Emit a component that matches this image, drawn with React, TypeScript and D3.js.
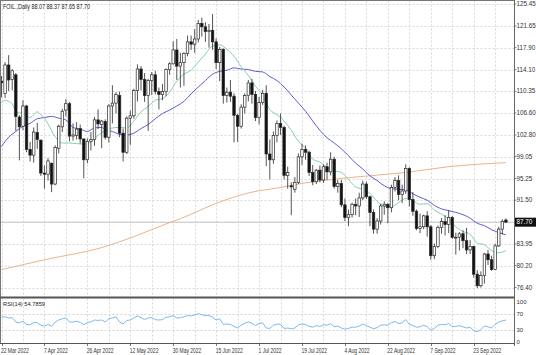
import React from "react";
import * as d3 from "d3";

const header = "FOIL.,Daily  88.07 88.37 87.65 87.70";
const rsiTitle = "RSI(14) 54.7859";
const lastPrice = 87.7;

const dateLabels = [
  "22 Mar 2022", "7 Apr 2022", "26 Apr 2022", "12 May 2022", "30 May 2022", "15 Jun 2022",
  "1 Jul 2022", "19 Jul 2022", "4 Aug 2022", "22 Aug 2022", "7 Sep 2022", "23 Sep 2022",
];
const priceTicks = [125.45, 121.65, 117.9, 114.1, 110.35, 106.6, 102.8, 99.05, 95.25, 91.5, 87.7, 83.95, 80.2, 76.4];
const rsiTicks = [100, 70, 30, 0];
const rsiLevels = [70, 30];

const opens = [
  112.1, 110.0, 114.9, 112.4, 113.2, 105.9, 104.3, 107.8, 100.3, 99.3,
  103.2, 101.9, 96.2, 96.0, 97.9, 94.3, 100.5, 104.2, 107.1, 108.2,
  102.6, 102.7, 103.9, 102.1, 98.5, 101.7, 102.0, 105.4, 104.6, 105.1,
  102.4, 107.8, 108.3, 109.6, 103.1, 99.8, 105.7, 106.1, 110.5, 114.2,
  112.4, 109.6, 112.2, 113.2, 110.3, 109.8, 110.3, 114.1, 115.1, 117.5,
  114.7, 115.3, 116.9, 118.9, 118.5, 119.4, 122.1, 121.5, 120.7, 120.9,
  118.9, 115.3, 117.6, 109.6, 110.2, 109.5, 106.2, 104.3, 107.6, 109.6,
  111.8, 109.8, 105.8, 108.4, 110.0, 99.5, 98.5, 102.7, 104.8, 104.1,
  95.8, 94.0, 93.4, 94.6, 99.0, 100.3, 99.8, 96.3, 94.7, 96.7,
  95.0, 97.3, 96.4, 98.6, 93.9, 94.4, 90.7, 88.5, 89.0, 90.8,
  90.5, 91.9, 94.3, 92.1, 89.4, 86.5, 87.9, 90.5, 90.8, 90.2,
  93.7, 94.9, 92.5, 93.1, 97.0, 91.6, 89.6, 86.6, 86.9, 88.8,
  86.9, 81.9, 83.5, 86.8, 87.8, 87.3, 88.5, 85.1, 85.1, 85.7,
  84.5, 82.9, 83.5, 78.7, 76.7, 78.5, 82.2, 81.2, 79.5, 83.6,
  86.5, 88.07,
];
const highs = [
  113.0, 115.4, 116.6, 114.2, 113.5, 106.2, 108.8, 108.0, 101.6, 104.1,
  104.9, 102.0, 97.5, 98.8, 98.0, 101.0, 104.6, 107.3, 109.0, 108.5,
  104.8, 105.0, 104.6, 102.2, 102.2, 103.3, 105.9, 107.2, 105.4, 105.5,
  108.1, 111.4, 110.2, 110.3, 103.9, 106.0, 107.0, 110.8, 115.0, 114.7,
  113.5, 112.5, 113.7, 113.9, 111.0, 111.6, 114.3, 115.4, 119.0, 119.4,
  117.0, 117.1, 120.0, 120.0, 121.1, 122.7, 123.1, 122.3, 122.0, 123.7,
  119.5, 118.0, 117.8, 111.0, 112.3, 110.0, 106.4, 108.1, 110.0, 112.3,
  112.5, 110.4, 109.4, 110.6, 111.4, 102.0, 103.4, 105.3, 106.5, 104.4,
  97.3, 94.6, 95.5, 99.6, 101.3, 101.0, 100.1, 97.6, 96.9, 97.5,
  97.7, 98.0, 99.8, 99.0, 95.0, 95.0, 91.8, 89.9, 91.1, 91.8,
  92.8, 94.9, 94.7, 92.3, 89.9, 88.4, 90.9, 91.3, 91.0, 94.2,
  95.5, 95.8, 94.2, 97.7, 97.2, 92.9, 89.9, 89.2, 89.0, 89.6,
  87.2, 84.0, 87.1, 88.4, 88.9, 89.8, 88.8, 85.9, 86.0, 86.3,
  86.7, 84.6, 83.6, 79.4, 79.2, 82.4, 82.9, 81.9, 84.0, 86.9,
  88.2, 88.37,
];
const lows = [
  109.3, 109.2, 110.4, 110.5, 103.5, 98.4, 103.6, 99.8, 98.2, 98.0,
  100.4, 95.7, 93.5, 94.9, 92.9, 94.1, 99.6, 103.3, 106.0, 101.7,
  101.8, 102.0, 101.3, 95.3, 97.9, 100.1, 100.9, 103.8, 100.5, 102.0,
  101.5, 104.8, 106.5, 102.4, 98.2, 99.5, 101.1, 105.6, 108.6, 110.5,
  108.5, 103.5, 109.7, 109.8, 107.2, 108.8, 109.5, 113.2, 115.0, 112.3,
  111.0, 111.3, 116.4, 117.5, 117.0, 118.8, 119.8, 118.9, 117.9, 117.5,
  114.2, 112.1, 108.2, 108.4, 108.5, 101.5, 101.6, 103.9, 106.5, 108.6,
  108.2, 105.2, 104.6, 108.0, 97.4, 95.1, 97.8, 101.5, 102.8, 95.1,
  93.5, 88.9, 92.8, 94.3, 97.6, 98.5, 95.7, 94.1, 94.3, 94.6,
  94.5, 95.0, 95.8, 93.5, 92.8, 90.3, 87.9, 87.0, 88.5, 88.9,
  88.6, 91.5, 91.7, 87.0, 85.7, 85.7, 87.3, 89.0, 87.5, 89.4,
  93.0, 91.5, 91.0, 92.6, 90.4, 88.8, 86.3, 85.8, 86.5, 85.2,
  81.2, 81.3, 83.2, 85.7, 85.4, 85.8, 84.8, 82.1, 82.8, 83.2,
  82.2, 82.2, 78.1, 76.3, 76.4, 77.1, 80.3, 79.3, 79.4, 83.4,
  85.6, 87.65,
];
const closes = [
  111.8, 114.9, 112.3, 113.9, 106.0, 104.2, 107.8, 100.3, 99.3, 103.3,
  102.0, 96.2, 96.0, 98.3, 94.3, 100.6, 104.3, 106.9, 108.2, 102.6,
  102.8, 103.8, 102.1, 98.5, 101.7, 102.0, 105.4, 104.7, 105.2, 102.4,
  107.8, 108.3, 109.8, 103.1, 99.8, 105.7, 106.1, 110.5, 114.2, 112.4,
  109.6, 112.2, 113.2, 110.3, 109.8, 110.3, 114.1, 115.1, 117.5, 114.7,
  115.3, 116.9, 118.9, 118.5, 119.4, 122.1, 121.5, 120.7, 120.9, 118.9,
  115.3, 117.6, 109.6, 110.2, 109.5, 106.2, 104.3, 107.6, 109.6, 111.8,
  109.8, 105.8, 108.4, 110.0, 99.5, 98.5, 102.7, 104.8, 104.1, 95.8,
  96.3, 93.8, 94.6, 99.0, 100.3, 99.8, 96.3, 94.7, 96.7, 95.0,
  97.3, 96.4, 98.6, 93.9, 94.4, 90.7, 88.5, 89.0, 90.8, 90.5,
  91.9, 94.3, 92.1, 89.4, 86.5, 87.9, 90.5, 90.8, 90.2, 93.7,
  94.9, 92.5, 93.1, 97.0, 91.6, 89.6, 86.6, 86.9, 88.8, 86.9,
  81.9, 83.5, 86.8, 87.8, 87.3, 88.5, 85.1, 85.1, 85.7, 84.5,
  82.9, 83.5, 78.7, 76.7, 78.5, 82.2, 81.2, 79.5, 83.6, 86.5,
  87.8, 87.7,
];

const sma14: [number, number][] = [
  [0, 108.3], [1, 108.8], [2, 108.6], [3, 108.2], [4, 106.9], [5, 106.6], [6, 106.7], [7, 106.1],
  [8, 105.8], [9, 106.3], [10, 106.8], [11, 106.3], [12, 105.7], [13, 104.7], [15, 102.5], [17, 101.4],
  [19, 101.4], [21, 101.3], [23, 101.2], [25, 101.6], [27, 102.7], [29, 103.6], [31, 104.0], [33, 104.1],
  [35, 104.0], [37, 105.2], [39, 106.8], [41, 107.7], [43, 108.8], [45, 109.1], [47, 110.2], [49, 112.1],
  [51, 113.3], [53, 114.0], [55, 115.4], [57, 116.8], [59, 118.2], [61, 118.4], [63, 117.6], [65, 116.4],
  [67, 114.6], [69, 113.1], [71, 111.2], [73, 109.7], [75, 107.2], [77, 106.3], [79, 105.2], [81, 103.6],
  [83, 101.7], [85, 100.5], [87, 98.6], [89, 98.1], [91, 97.2], [93, 96.6], [95, 96.3], [97, 95.1],
  [99, 93.8], [101, 93.4], [103, 92.7], [105, 91.3], [107, 90.5], [109, 90.4], [111, 91.1], [113, 91.8],
  [115, 91.4], [117, 90.8], [119, 90.9], [121, 89.8], [123, 89.1], [125, 88.3], [127, 86.9], [129, 86.1],
  [131, 85.6], [133, 84.1], [135, 83.8], [137, 82.8], [139, 82.4], [141, 82.8],
];
const sma30: [number, number][] = [
  [0, 100.8], [2, 102.4], [4, 103.4], [6, 104.3], [8, 104.8], [10, 105.6], [12, 105.8], [14, 106.0],
  [16, 105.7], [18, 105.4], [20, 104.1], [22, 103.8], [24, 103.4], [26, 104.0], [28, 104.1], [29, 103.7],
  [31, 103.4], [33, 102.9], [35, 102.8], [37, 103.1], [39, 103.9], [41, 104.6], [43, 105.6], [45, 106.5],
  [47, 107.1], [49, 107.8], [51, 108.6], [53, 109.9], [55, 111.1], [57, 112.2], [59, 113.3], [61, 113.8],
  [63, 114.0], [65, 114.4], [67, 114.2], [69, 114.1], [71, 113.8], [73, 113.7], [75, 112.9], [77, 112.2],
  [79, 111.1], [81, 109.7], [83, 108.3], [85, 106.9], [87, 105.2], [89, 103.6], [91, 102.3], [93, 101.4],
  [95, 100.4], [97, 99.2], [99, 97.9], [101, 96.9], [103, 95.7], [105, 94.9], [107, 94.0], [109, 93.5],
  [111, 93.4], [113, 93.3], [115, 92.6], [117, 92.0], [119, 91.5], [121, 90.6], [123, 90.0], [125, 89.7],
  [127, 89.4], [129, 89.0], [131, 88.4], [133, 87.5], [135, 87.1], [137, 86.4], [139, 85.9], [141, 85.5],
];
const sma200: [number, number][] = [
  [0, 79.5], [12, 81.2], [28, 83.3], [37, 85.2], [46, 87.4], [50, 88.3], [61, 91.2], [70, 92.9],
  [77, 93.6], [84, 94.4], [97, 95.4], [113, 96.3], [125, 97.3], [141, 98.0],
];
const rsi14 = [
  62, 63, 60, 61, 50, 48, 52, 44, 43, 49,
  48, 42, 40, 44, 39, 50, 55, 58, 60, 50,
  50, 52, 49, 43, 49, 50, 55, 54, 55, 50,
  58, 60, 63, 50, 45, 54, 55, 60, 65, 61,
  56, 60, 61, 56, 55, 56, 62, 63, 66, 60,
  61, 63, 66, 65, 68, 71, 68, 66, 66, 62,
  55, 58, 44, 45, 44, 39, 35, 42, 47, 50,
  47, 41, 46, 48, 35, 34, 42, 45, 44, 34,
  35, 33, 35, 43, 45, 44, 39, 37, 41, 39,
  43, 42, 46, 38, 40, 35, 32, 34, 37, 37,
  40, 45, 41, 37, 33, 36, 42, 43, 42, 49,
  51, 46, 48, 56, 44, 41, 37, 38, 42, 38,
  30, 34, 42, 44, 43, 46, 39, 39, 41, 38,
  35, 37, 28, 26, 31, 40, 38, 35, 44, 50,
  53, 54.79,
];

const FONT = "'Liberation Sans', Arial, sans-serif";

export default function App() {
  const W = 536;
  const H = 355;
  const plotL = 0.5;
  const plotR = 514.5;
  const mainTop = 0.5;
  const mainBot = 296.5;
  const rsiTop = 298.5;
  const rsiBot = 343.5;
  const n = closes.length;

  const x = d3.scaleLinear().domain([0, n - 1]).range([1.5, 505.9]);
  const y = d3.scaleLinear().domain([76.4, 125.45]).range([287.5, 4]);
  const yr = d3.scaleLinear().domain([0, 100]).range([342, 302]);

  const maLine = d3
    .line<[number, number]>()
    .x((d) => x(d[0]))
    .y((d) => y(d[1]))
    .curve(d3.curveMonotoneX);
  const rsiLine = d3
    .line<number>()
    .x((_, i) => x(i))
    .y((d) => yr(d));

  const gridIdx = d3.range(0, n, 6);
  const bodyW = 2.5;

  return (
    <svg
      width={W}
      height={H}
      style={{ position: "fixed", left: 0, top: 0, background: "#fff" }}
      fontFamily={FONT}
    >
      <rect x={0} y={0} width={W} height={H} fill="#fff" />
      {/* grid - main */}
      {priceTicks.map((p) => (
        <line key={"hg" + p} x1={plotL} x2={plotR} y1={Math.round(y(p)) + 0.5} y2={Math.round(y(p)) + 0.5}
          stroke="#cfcfcf" strokeWidth={0.8} strokeDasharray="2,2" />
      ))}
      {gridIdx.map((i) => (
        <g key={"vg" + i}>
          <line x1={Math.round(x(i)) + 0.5} x2={Math.round(x(i)) + 0.5} y1={mainTop} y2={mainBot}
            stroke="#cfcfcf" strokeWidth={0.8} strokeDasharray="2,2" />
          <line x1={Math.round(x(i)) + 0.5} x2={Math.round(x(i)) + 0.5} y1={rsiTop} y2={rsiBot}
            stroke="#cfcfcf" strokeWidth={0.8} strokeDasharray="2,2" />
        </g>
      ))}
      {rsiLevels.map((v) => (
        <line key={"rl" + v} x1={plotL} x2={plotR} y1={Math.round(yr(v)) + 0.5} y2={Math.round(yr(v)) + 0.5}
          stroke="#c8c8c8" strokeWidth={0.8} strokeDasharray="2,2" />
      ))}
      {/* bid line */}
      <line x1={plotL} x2={plotR} y1={y(lastPrice)} y2={y(lastPrice)} stroke="#c4c4c4" strokeWidth={1} />

      {/* moving averages */}
      <path d={maLine(sma200) || ""} fill="none" stroke="#eab38e" strokeWidth={1} />
      <path d={maLine(sma30) || ""} fill="none" stroke="#5d5dd0" strokeWidth={1} />
      <path d={maLine(sma14) || ""} fill="none" stroke="#86cdb0" strokeWidth={1} />

      {/* candles */}
      {closes.map((c, i) => {
        const o = opens[i];
        const up = c >= o;
        const cx = x(i);
        const top = y(Math.max(o, c));
        const bot = y(Math.min(o, c));
        return (
          <g key={"c" + i}>
            <line x1={cx} x2={cx} y1={y(highs[i])} y2={y(lows[i])} stroke="#2a2a2a" strokeWidth={0.8} />
            <rect x={cx - bodyW / 2} y={top} width={bodyW} height={Math.max(0.8, bot - top)}
              fill={up ? "#ffffff" : "#111111"} stroke="#2a2a2a" strokeWidth={0.7} />
          </g>
        );
      })}

      {/* RSI line */}
      <path d={rsiLine(rsi14) || ""} fill="none" stroke="#7db9ef" strokeWidth={1} />

      {/* frames */}
      <line x1={0.5} x2={0.5} y1={0} y2={rsiBot} stroke="#777" strokeWidth={1} />
      <line x1={0} x2={plotR} y1={0.5} y2={0.5} stroke="#777" strokeWidth={1} />
      <line x1={0} x2={plotR} y1={297.5} y2={297.5} stroke="#555" strokeWidth={2} />
      <line x1={0} x2={plotR} y1={rsiBot} y2={rsiBot} stroke="#555" strokeWidth={1.2} />
      <line x1={plotR} x2={plotR} y1={0} y2={346} stroke="#666" strokeWidth={1} />

      {/* price axis labels */}
      {priceTicks.filter((p) => p !== lastPrice).map((p) => (
        <g key={"pt" + p}>
          <line x1={plotR} x2={plotR + 2} y1={y(p)} y2={y(p)} stroke="#666" strokeWidth={0.8} />
          <text x={516.5} y={y(p) + 2.2} fontSize={6.3} fill="#333">{p.toFixed(2)}</text>
        </g>
      ))}
      <rect x={515} y={y(lastPrice) - 4.5} width={21} height={9} fill="#111" />
      <text x={516.5} y={y(lastPrice) + 2.2} fontSize={6.3} fill="#fff">{lastPrice.toFixed(2)}</text>

      {/* RSI axis labels */}
      {rsiTicks.map((v) => (
        <text key={"rt" + v} x={516.5} y={yr(v) + 2.2} fontSize={6} fill="#333">{v}</text>
      ))}

      {/* date labels */}
      {dateLabels.map((d, k) => (
        <g key={"dl" + d}>
          <line x1={Math.round(x(k * 12)) + 0.5} x2={Math.round(x(k * 12)) + 0.5} y1={rsiBot} y2={rsiBot + 2.5} stroke="#555" strokeWidth={0.8} />
          <text transform={`translate(${x(k * 12) - 0.5},352.5) scale(0.75,1)`} fontSize={6.6} fill="#333">{d}</text>
        </g>
      ))}

      {/* titles */}
      <text x={3} y={8.5} fontSize={6.4} fill="#222" textLength={87} lengthAdjust="spacingAndGlyphs">{header}</text>
      <text x={3} y={305.8} fontSize={6} fill="#222" textLength={42} lengthAdjust="spacingAndGlyphs">{rsiTitle}</text>
    </svg>
  );
}
